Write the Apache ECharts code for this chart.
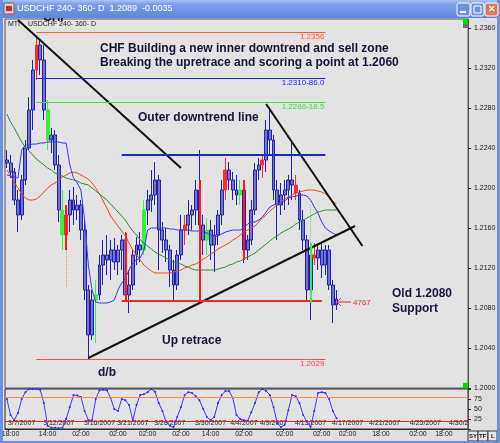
<!DOCTYPE html>
<html><head><meta charset="utf-8">
<script src="https://cdn.jsdelivr.net/npm/echarts@6/dist/echarts.min.js"></script>
<style>html,body{margin:0;padding:0;background:#dfdfdf;}#c{width:500px;height:443px;}</style>
</head><body><div id="c"></div><script>
// ---- data (240-min bars, USDCHF) ----
const N_SLOTS = 125; // bar slots on the x axis (data + empty future)
const open = [
1.2228,1.2225,1.2216,1.2188,1.2173,1.2208,1.2240,1.2278,1.2318,1.2343,
1.2328,1.2278,1.2248,1.2253,1.2223,1.2178,1.2153,1.2173,1.2188,1.2178,
1.2183,1.2158,1.2098,1.2053,1.2088,1.2093,1.2123,1.2133,1.2128,1.2138,
1.2126,1.2138,1.2148,1.2093,1.2103,1.2133,1.2143,1.2138,1.2178,1.2188,
1.2193,1.2208,1.2158,1.2148,1.2138,1.2118,1.2103,1.2133,1.2158,1.2163,
1.2173,1.2178,1.2198,1.2163,1.2148,1.2158,1.2143,1.2153,1.2173,1.2198,
1.2218,1.2208,1.2198,1.2193,1.2198,1.2138,1.2148,1.2178,1.2218,1.2223,
1.2228,1.2258,1.2248,1.2198,1.2183,1.2193,1.2198,1.2208,1.2203,1.2195,
1.2168,1.2148,1.2098,1.2133,1.2130,1.2138,1.2123,1.2138,1.2103,1.2083];
const close = [
1.2225,1.2216,1.2188,1.2173,1.2208,1.2240,1.2278,1.2318,1.2343,1.2328,
1.2278,1.2248,1.2253,1.2223,1.2178,1.2153,1.2173,1.2188,1.2178,1.2183,
1.2158,1.2098,1.2053,1.2088,1.2093,1.2123,1.2133,1.2128,1.2138,1.2126,
1.2138,1.2148,1.2093,1.2103,1.2133,1.2143,1.2138,1.2178,1.2188,1.2193,
1.2208,1.2158,1.2148,1.2138,1.2118,1.2103,1.2133,1.2158,1.2163,1.2173,
1.2178,1.2198,1.2163,1.2148,1.2158,1.2143,1.2153,1.2173,1.2198,1.2218,
1.2208,1.2198,1.2193,1.2198,1.2138,1.2148,1.2178,1.2218,1.2223,1.2228,
1.2258,1.2248,1.2198,1.2183,1.2193,1.2198,1.2208,1.2203,1.2195,1.2168,
1.2148,1.2098,1.2133,1.2130,1.2138,1.2123,1.2138,1.2103,1.2083,1.2089];
const low = [
1.2220,1.2210,1.2183,1.2156,1.2168,1.2203,1.2238,1.2258,1.2308,1.2313,
1.2268,1.2238,1.2235,1.2218,1.2166,1.2138,1.2138,1.2156,1.2163,1.2168,
1.2148,1.2088,1.2029,1.2048,1.2045,1.2088,1.2103,1.2113,1.2108,1.2118,
1.2113,1.2118,1.2088,1.2075,1.2098,1.2123,1.2126,1.2133,1.2163,1.2176,
1.2183,1.2118,1.2135,1.2126,1.2101,1.2088,1.2098,1.2128,1.2143,1.2153,
1.2158,1.2163,1.2153,1.2133,1.2133,1.2128,1.2116,1.2143,1.2163,1.2188,
1.2198,1.2188,1.2183,1.2183,1.2125,1.2128,1.2143,1.2173,1.2208,1.2210,
1.2216,1.2233,1.2188,1.2148,1.2173,1.2178,1.2183,1.2188,1.2188,1.2158,
1.2138,1.2088,1.2068,1.2123,1.2118,1.2110,1.2113,1.2098,1.2065,1.2078];
const high = [
1.2238,1.2233,1.2220,1.2198,1.2213,1.2248,1.2291,1.2328,1.2350,1.2348,
1.2343,1.2288,1.2260,1.2258,1.2233,1.2198,1.2183,1.2198,1.2201,1.2193,
1.2188,1.2168,1.2103,1.2098,1.2108,1.2133,1.2148,1.2153,1.2148,1.2150,
1.2143,1.2153,1.2156,1.2118,1.2138,1.2151,1.2156,1.2188,1.2198,1.2218,
1.2226,1.2213,1.2166,1.2160,1.2143,1.2128,1.2138,1.2173,1.2173,1.2188,
1.2183,1.2208,1.2238,1.2173,1.2170,1.2168,1.2163,1.2178,1.2208,1.2230,
1.2226,1.2216,1.2213,1.2208,1.2203,1.2153,1.2188,1.2225,1.2230,1.2233,
1.2268,1.2281,1.2253,1.2208,1.2205,1.2208,1.2213,1.2245,1.2213,1.2198,
1.2178,1.2153,1.2143,1.2145,1.2143,1.2145,1.2143,1.2143,1.2108,1.2098];
const maRed = [
1.2218,1.2212,1.2206,1.2200,1.2194,1.2190,1.2188,1.2188,1.2189,1.2192,
1.2196,1.2200,1.2203,1.2205,1.2208,1.2211,1.2213,1.2215,1.2216,1.2215,
1.2213,1.2211,1.2209,1.2205,1.2200,1.2194,1.2187,1.2180,1.2172,1.2167,
1.2162,1.2157,1.2152,1.2145,1.2138,1.2133,1.2128,1.2123,1.2120,1.2117,
1.2115,1.2115,1.2115,1.2115,1.2115,1.2116,1.2117,1.2118,1.2120,1.2121,
1.2123,1.2124,1.2126,1.2129,1.2131,1.2134,1.2136,1.2139,1.2141,1.2143,
1.2145,1.2148,1.2150,1.2153,1.2156,1.2158,1.2160,1.2162,1.2166,1.2170,
1.2173,1.2177,1.2180,1.2183,1.2186,1.2189,1.2191,1.2193,1.2195,1.2196,
1.2197,1.2198,1.2198,1.2198,1.2197,1.2196,1.2194,1.2191,1.2187,1.2184];
const maGreen = [
1.2274,1.2266,1.2260,1.2253,1.2246,1.2241,1.2237,1.2233,1.2229,1.2226,
1.2223,1.2220,1.2218,1.2215,1.2213,1.2212,1.2210,1.2209,1.2208,1.2207,
1.2205,1.2204,1.2203,1.2200,1.2197,1.2194,1.2191,1.2188,1.2184,1.2180,
1.2176,1.2172,1.2168,1.2162,1.2157,1.2153,1.2148,1.2145,1.2142,1.2139,
1.2136,1.2134,1.2132,1.2130,1.2128,1.2126,1.2125,1.2124,1.2122,1.2121,
1.2119,1.2118,1.2118,1.2118,1.2118,1.2118,1.2118,1.2119,1.2120,1.2121,
1.2123,1.2124,1.2126,1.2127,1.2129,1.2131,1.2133,1.2135,1.2138,1.2141,
1.2144,1.2147,1.2150,1.2152,1.2155,1.2157,1.2159,1.2161,1.2164,1.2166,
1.2168,1.2170,1.2172,1.2174,1.2176,1.2177,1.2178,1.2178,1.2178,1.2178];
const maBlue = [
1.2213,1.2212,1.2211,1.2210,1.2238,1.2243,1.2243,1.2244,1.2244,1.2245,
1.2245,1.2246,1.2246,1.2246,1.2246,1.2245,1.2245,1.2223,1.2210,1.2205,
1.2198,1.2168,1.2123,1.2098,1.2086,1.2085,1.2085,1.2085,1.2086,1.2088,
1.2098,1.2105,1.2110,1.2118,1.2125,1.2128,1.2130,1.2138,1.2158,1.2160,
1.2160,1.2160,1.2160,1.2160,1.2159,1.2159,1.2158,1.2158,1.2158,1.2158,
1.2157,1.2157,1.2157,1.2156,1.2155,1.2153,1.2151,1.2152,1.2154,1.2156,
1.2157,1.2158,1.2158,1.2158,1.2160,1.2164,1.2166,1.2166,1.2168,1.2171,
1.2176,1.2181,1.2183,1.2184,1.2185,1.2187,1.2190,1.2191,1.2192,1.2193,
1.2193,1.2192,1.2188,1.2181,1.2175,1.2166,1.2160,1.2157,1.2155,1.2153];
const osc = [
75,35,22,40,75,92,100,100,100,98,
65,8,3,3,2,3,25,55,85,84,
80,45,22,22,75,97,98,97,78,50,
45,75,72,60,22,60,85,87,92,100,
93,65,45,18,8,5,30,55,85,92,
90,82,72,50,30,22,30,65,85,95,
95,78,35,25,22,20,42,65,92,100,
95,85,55,15,5,10,47,85,82,65,
35,18,5,45,90,92,90,75,45,27];
const redBars = [8,16,48,59,69,78,83];
const greenBars = [11,15,24,37,54,63];
// trend lines: [[slot, price],[slot, price]]
const trendLines = [[[3,1.2368],[47,1.2220]], [[70,1.2284],[96,1.2142]], [[22,1.2030],[94,1.2162]]];
const zoneTop = {price:1.2233, from:31, to:86};
const zoneBottom = {price:1.2087, from:31, to:85};
const levelPrices = [1.2356, 1.2310, 1.2286, 1.2029];
const levelLabels = ['1.2356','1.2310-86.0','1.2286-18.5','1.2029'];
const levelFrom = 8, levelTo = 86;
const redVerticals = [[32,1.2155,1.2087],[52,1.2208,1.2088],[64,1.2208,1.2128],[16,1.2183,1.2138]];
const greenVertical = [82,1.2145,1.2085];
const oscLevels = [80, 20];
const priceTicks = {min:1.2000, max:1.2369, step:0.004};
const dateIdx = [4,14,25,34,44,55,64,72,82,92,102,113,122];
const dateTxt = ['3/7/2007','3/12/2007','3/16/2007','3/21/2007','3/26/2007','3/30/2007','4/4/2007','4/9/2007','4/13/2007','4/17/2007','4/21/2007','4/25/2007','4/30/2'];
const timeIdx = [1,11,20,30,38,47,55,64,75,85,92,101,111,118];
const timeTxt = ['18:00','14:00','02:00','02:00','02:00','02:00','14:00','02:00','02:00','02:00','02:00','18:00','02:00','18:00'];

// ---- build ----
const slots = Array.from({length:N_SLOTS},(_,i)=>String(i));
const FONT = '"Liberation Sans", Arial, sans-serif';
const candleData = open.map((o,i)=>{
  const it = {value:[o, close[i], low[i], high[i]]};
  const c = redBars.includes(i) ? '#ff2a2a' : greenBars.includes(i) ? '#3cf03c' : null;
  if (c) it.itemStyle = {color:c,color0:c,borderColor:c,borderColor0:c};
  return it;
});
const lastClose = close[close.length-1];
const ml = [];
trendLines.forEach(([a,b])=>ml.push([{coord:a,lineStyle:{color:'#111',width:2,type:'solid'}},{coord:b}]));
ml.push([{coord:[zoneTop.from,zoneTop.price],lineStyle:{color:'#1b2bd0',width:2,type:'solid'}},{coord:[zoneTop.to,zoneTop.price]}]);
ml.push([{coord:[zoneBottom.from,zoneBottom.price],lineStyle:{color:'#ff2020',width:2,type:'solid'}},{coord:[zoneBottom.to,zoneBottom.price]}]);
const levelColors = ['#ff5a30','#2424e0','#44dd44','#ff4a4a'];
levelPrices.forEach((p,k)=>ml.push([{coord:[levelFrom,p],lineStyle:{color:levelColors[k],width:1,type:'solid'},
  label:{show:true,position:'insideEndBottom',formatter:levelLabels[k],color:levelColors[k],fontSize:8,fontFamily:FONT,distance:1}},{coord:[levelTo,p]}]));
redVerticals.forEach(([s,a,b])=>ml.push([{coord:[s,a],lineStyle:{color:'#ff1a1a',width:2,type:'solid'}},{coord:[s,b]}]));
ml.push([{coord:[16,1.2138],lineStyle:{color:'#ff8a40',width:1,type:'dotted'}},{coord:[16,1.2101]}]);
ml.push([{coord:[greenVertical[0],1.2183],lineStyle:{color:'#60e060',width:1,type:'dotted'}},{coord:[greenVertical[0],greenVertical[1]]}]);
ml.push([{coord:[greenVertical[0],greenVertical[1]],lineStyle:{color:'#3cf03c',width:2,type:'solid'}},{coord:[greenVertical[0],greenVertical[2]]}]);
ml.push({yAxis:lastClose,lineStyle:{opacity:0},label:{show:true,position:'end',formatter:lastClose.toFixed(4),backgroundColor:'#fff',color:'#000',fontSize:7,fontFamily:FONT,padding:[1,2],distance:4}});

const txt = (x,y,t,font,fill,z)=>({type:'text',x:x,y:y,z:z||50,style:{text:t,font:font,fill:fill,align:'left',verticalAlign:'middle'}});
const bold = 'bold 12px '+FONT;
const graphic = [
  txt(100,49,'CHF Building a new inner downtrend and sell zone',bold,'#14143a'),
  txt(100,63,'Breaking the upretrace and scoring a point at 1.2060',bold,'#14143a'),
  txt(138,118,'Outer downtrend line',bold,'#14143a'),
  txt(162,341,'Up retrace',bold,'#14143a'),
  txt(98,373,'d/b',bold,'#14143a'),
  txt(392,294,'Old 1.2080',bold,'#14143a'),
  txt(392,309,'Support',bold,'#14143a'),
  txt(43,18,'CHF',bold,'#14143a',40),
  txt(8,24,'MTI','7px '+FONT,'#222'),
  txt(28,24,'USDCHF 240- 360- D','7px '+FONT,'#222'),
  txt(353,303,'4767','8px '+FONT,'#ff2020'),
  {type:'polyline',z:50,shape:{points:[[351,302],[337,302]]},style:{stroke:'#ff2020',lineWidth:1}},
  {type:'polyline',z:50,shape:{points:[[341,298],[337,302],[341,306]]},style:{stroke:'#ff2020',lineWidth:1,fill:null}},
  // window frame
  {type:'rect',z:100,shape:{x:0,y:0,width:500,height:18},style:{fill:new echarts.graphic.LinearGradient(0,0,0,1,[{offset:0,color:'#a9c3f5'},{offset:0.25,color:'#7a9fea'},{offset:1,color:'#5b86de'}])}},
  {type:'rect',z:100,shape:{x:0,y:0,width:3,height:443},style:{fill:'#6b90dc'}},
  {type:'rect',z:100,shape:{x:497,y:0,width:3,height:443},style:{fill:'#6b90dc'}},
  {type:'rect',z:100,shape:{x:0,y:441,width:500,height:2},style:{fill:'#6b90dc'}},
  {type:'rect',z:101,shape:{x:4,y:3,width:10,height:11},style:{fill:'#d8d0c8',stroke:'#806060',lineWidth:1}},
  {type:'rect',z:102,shape:{x:6,y:6,width:6,height:5},style:{fill:'#c03030'}},
  txt(17,9,'USDCHF 240- 360- D  1.2089  -0.0035','9px '+FONT,'#ffffff',103),
  {type:'rect',z:101,shape:{x:457,y:3,width:13,height:13,r:2},style:{fill:'#6d93e6',stroke:'#ffffff',lineWidth:1}},
  {type:'rect',z:102,shape:{x:460,y:11,width:6,height:2},style:{fill:'#ffffff'}},
  {type:'rect',z:101,shape:{x:471,y:3,width:13,height:13,r:2},style:{fill:'#6d93e6',stroke:'#ffffff',lineWidth:1}},
  {type:'rect',z:102,shape:{x:474,y:6,width:7,height:7},style:{fill:null,stroke:'#ffffff',lineWidth:1}},
  {type:'rect',z:101,shape:{x:485,y:3,width:13,height:13,r:2},style:{fill:'#e0785a',stroke:'#ffffff',lineWidth:1}},
  txt(488,10,'✕','bold 9px '+FONT,'#ffffff',103),
  // pane markers
  {type:'rect',z:60,shape:{x:463,y:19,width:5,height:5},style:{fill:'#00e000'}},
  {type:'rect',z:60,shape:{x:463,y:24,width:5,height:4},style:{fill:'#707070'}},
  {type:'rect',z:60,shape:{x:463,y:383,width:5,height:5},style:{fill:'#00e000'}},
  // bottom-right buttons
  {type:'rect',z:60,shape:{x:468,y:431,width:10,height:10},style:{fill:'#e8e8e8',stroke:'#333',lineWidth:1}},
  {type:'rect',z:60,shape:{x:478,y:431,width:10,height:10},style:{fill:'#e8e8e8',stroke:'#333',lineWidth:1}},
  {type:'rect',z:60,shape:{x:488,y:431,width:9,height:10},style:{fill:'#e8e8e8',stroke:'#333',lineWidth:1}},
  txt(469,436,'SY','bold 6px '+FONT,'#111',61),
  txt(479,436,'TF','bold 6px '+FONT,'#111',61),
  txt(491,436,'L','bold 6px '+FONT,'#111',61)
];

const chart = echarts.init(document.getElementById('c'),null,{renderer:'canvas'});
chart.setOption({
  animation:false,
  backgroundColor:'#dfdfdf',
  grid:[
    {left:5,right:32,top:19,height:369,show:true,backgroundColor:'#e3e3e3',borderColor:'#555',borderWidth:1,outerBoundsMode:'none'},
    {left:5,right:32,top:389,height:40,show:true,backgroundColor:'#e3e3e3',borderColor:'#222',borderWidth:1,outerBoundsMode:'none'}
  ],
  xAxis:[
    {type:'category',data:slots,gridIndex:0,show:false,boundaryGap:true},
    {type:'category',data:slots,gridIndex:1,boundaryGap:true,
      axisLine:{show:true,lineStyle:{color:'#333'}},
      axisTick:{show:true,length:2,interval:(i)=>timeIdx.includes(i),lineStyle:{color:'#333'}},
      axisLabel:{show:true,interval:(i)=>timeIdx.includes(i),formatter:(v,i)=>{const k=timeIdx.indexOf(i);return k<0?'':timeTxt[k];},fontSize:7,fontFamily:FONT,color:'#222',margin:2},
      splitLine:{show:false}},
    {type:'category',data:slots,gridIndex:1,boundaryGap:true,position:'bottom',
      axisLine:{show:false},axisTick:{show:false},
      axisLabel:{show:true,inside:true,interval:(i)=>dateIdx.includes(i),formatter:(v,i)=>{const k=dateIdx.indexOf(i);return k<0?'':dateTxt[k];},fontSize:7,fontFamily:FONT,color:'#222',margin:2},
      splitLine:{show:false}}
  ],
  yAxis:[
    {type:'value',gridIndex:0,position:'right',min:priceTicks.min,max:priceTicks.max,interval:priceTicks.step,scale:true,
      axisLine:{show:true,lineStyle:{color:'#555'}},axisTick:{show:true,length:3,lineStyle:{color:'#333'}},
      axisLabel:{showMaxLabel:false,formatter:(v)=>v.toFixed(4),fontSize:7,fontFamily:FONT,color:'#222',margin:6},
      splitLine:{show:false}},
    {type:'value',gridIndex:1,position:'right',min:0,max:100,interval:25,
      axisLine:{show:true,lineStyle:{color:'#555'}},axisTick:{show:true,length:3,lineStyle:{color:'#333'}},
      axisLabel:{formatter:(v)=>(v===25||v===50||v===75)?String(v):'',fontSize:7,fontFamily:FONT,color:'#222',margin:6},
      splitLine:{show:false}}
  ],
  series:[
    {type:'candlestick',xAxisIndex:0,yAxisIndex:0,data:candleData,barWidth:3.4,
      itemStyle:{color:'#7272d4',color0:'#7272d4',borderColor:'#2222a8',borderColor0:'#2222a8',borderWidth:1},
      markLine:{silent:true,symbol:['none','none'],animation:false,label:{show:false},data:ml}},
    {type:'line',xAxisIndex:0,yAxisIndex:0,data:maRed,showSymbol:false,lineStyle:{color:'#f04a1e',width:1},z:3},
    {type:'line',xAxisIndex:0,yAxisIndex:0,data:maGreen,showSymbol:false,lineStyle:{color:'#2e8f2e',width:1},z:3},
    {type:'line',xAxisIndex:0,yAxisIndex:0,data:maBlue,showSymbol:false,lineStyle:{color:'#3838f0',width:1},z:3},
    {type:'line',xAxisIndex:1,yAxisIndex:1,data:osc,symbol:'circle',symbolSize:2,showSymbol:true,
      itemStyle:{color:'#2c2cf0'},lineStyle:{color:'#3a3af0',width:1},
      markLine:{silent:true,symbol:['none','none'],label:{show:false},
        data:[{yAxis:oscLevels[0],lineStyle:{color:'#ff8c40',width:1,type:'solid'}},{yAxis:oscLevels[1],lineStyle:{color:'#e02a2a',width:1,type:'solid'}}]}}
  ],
  graphic:graphic
});
</script></body></html>
